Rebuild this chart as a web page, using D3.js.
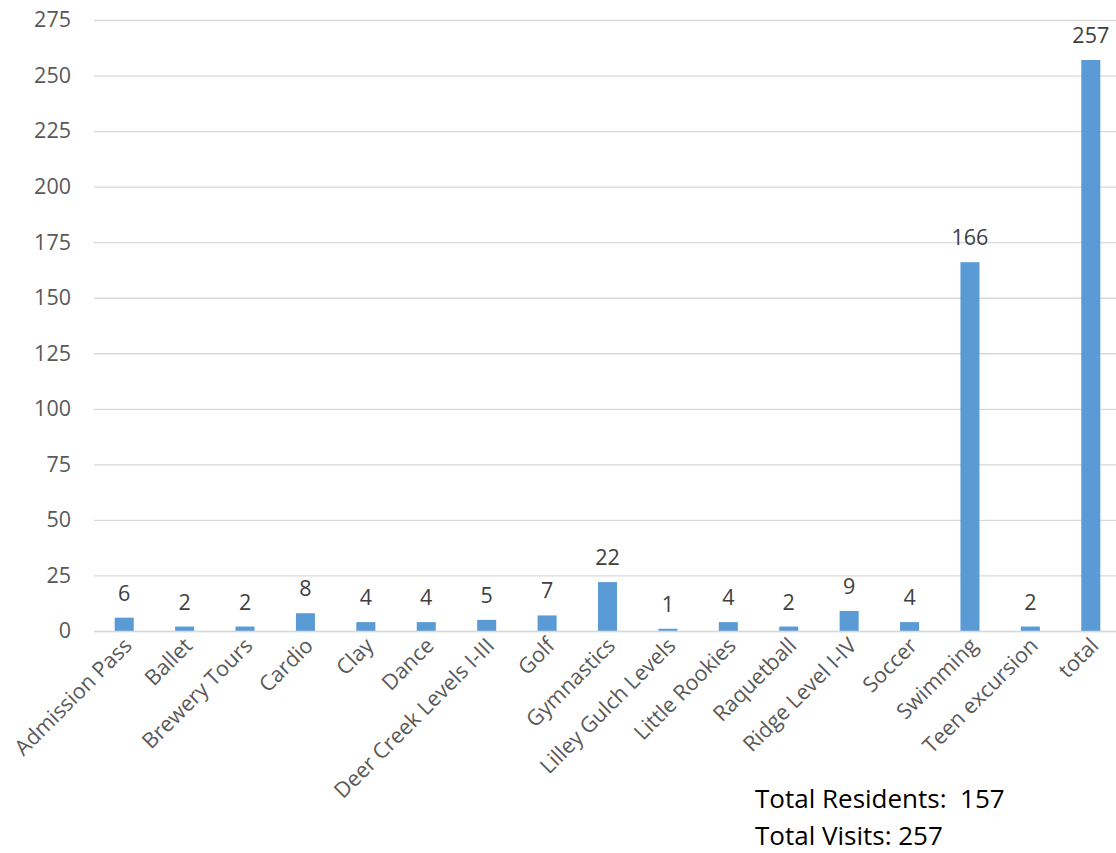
<!DOCTYPE html>
<html>
<head>
<meta charset="utf-8">
<script src="https://cdn.jsdelivr.net/npm/d3@7"></script>
<style>
  body { margin: 0; background: #fff; }
  text { font-family: "Open Sans", sans-serif; }
</style>
</head>
<body>
<div id="wrapper"></div>
<script>
const categories = ['Admission Pass', 'Ballet', 'Brewery Tours', 'Cardio', 'Clay', 'Dance',
  'Deer Creek Levels I-III', 'Golf', 'Gymnastics', 'Lilley Gulch Levels', 'Little Rookies',
  'Raquetball', 'Ridge Level I-IV', 'Soccer', 'Swimming', 'Teen excursion', 'total']
const values = [6, 2, 2, 8, 4, 4, 5, 7, 22, 1, 4, 2, 9, 4, 166, 2, 257]
const yTicks = [0, 25, 50, 75, 100, 125, 150, 175, 200, 225, 250, 275]
const notes = ['Total Residents:  157', 'Total Visits: 257']

const dimensions = {
  width: 1116,
  height: 853,
  margin: { top: 20, right: -5, bottom: 222, left: 94 },
}
dimensions.boundedWidth = dimensions.width - dimensions.margin.left - dimensions.margin.right
dimensions.boundedHeight = dimensions.height - dimensions.margin.top - dimensions.margin.bottom

const wrapper = d3.select('#wrapper')
  .append('svg')
  .attr('width', dimensions.width)
  .attr('height', dimensions.height)

const bounds = wrapper.append('g')
  .attr('transform', `translate(${dimensions.margin.left},${dimensions.margin.top})`)

const xScale = d3.scaleBand()
  .domain(categories)
  .range([0, dimensions.boundedWidth])
  .paddingInner(0.685)
  .paddingOuter(0.3425)

const yScale = d3.scaleLinear()
  .domain([0, 275])
  .range([dimensions.boundedHeight, 0])

// gridlines + y labels
const yAxis = bounds.append('g')
  .call(d3.axisLeft(yScale).tickValues(yTicks).tickSize(-dimensions.boundedWidth).tickPadding(23))
yAxis.select('.domain').remove()
yAxis.selectAll('.tick line').attr('stroke', '#d9d9d9').attr('stroke-width', 1.3)
yAxis.selectAll('.tick text')
  .attr('fill', '#595959')
  .style('font-size', '21.5px')

// bars
bounds.selectAll('.bar')
  .data(values)
  .enter()
  .append('rect')
  .attr('class', 'bar')
  .attr('x', (d, i) => xScale(categories[i]))
  .attr('y', (d) => yScale(d))
  .attr('width', xScale.bandwidth())
  .attr('height', (d) => dimensions.boundedHeight - yScale(d))
  .attr('fill', '#5b9bd5')

// data labels
bounds.selectAll('.label')
  .data(values)
  .enter()
  .append('text')
  .attr('class', 'label')
  .attr('x', (d, i) => xScale(categories[i]) + xScale.bandwidth() / 2)
  .attr('y', (d) => yScale(d) - 17)
  .attr('text-anchor', 'middle')
  .attr('fill', '#404040')
  .style('font-size', '21.5px')
  .text((d) => d)

// x axis
const xAxis = bounds.append('g')
  .attr('transform', `translate(0,${dimensions.boundedHeight})`)
  .call(d3.axisBottom(xScale).tickSize(0).tickPadding(0))
xAxis.select('.domain').attr('stroke', '#d9d9d9').attr('stroke-width', 1.3)
xAxis.selectAll('.tick text')
  .attr('fill', '#595959')
  .style('font-size', '21.5px')
  .attr('text-anchor', 'end')
  .attr('dy', 0)
  .attr('transform', 'translate(9,16) rotate(-45)')

// notes
wrapper.selectAll('.note')
  .data(notes)
  .enter()
  .append('text')
  .attr('class', 'note')
  .attr('x', 755)
  .attr('y', (d, i) => 808 + i * 37)
  .attr('fill', '#000')
  .style('font-size', '26px')
  .style('white-space', 'pre')
  .text((d) => d)
</script>
</body>
</html>
